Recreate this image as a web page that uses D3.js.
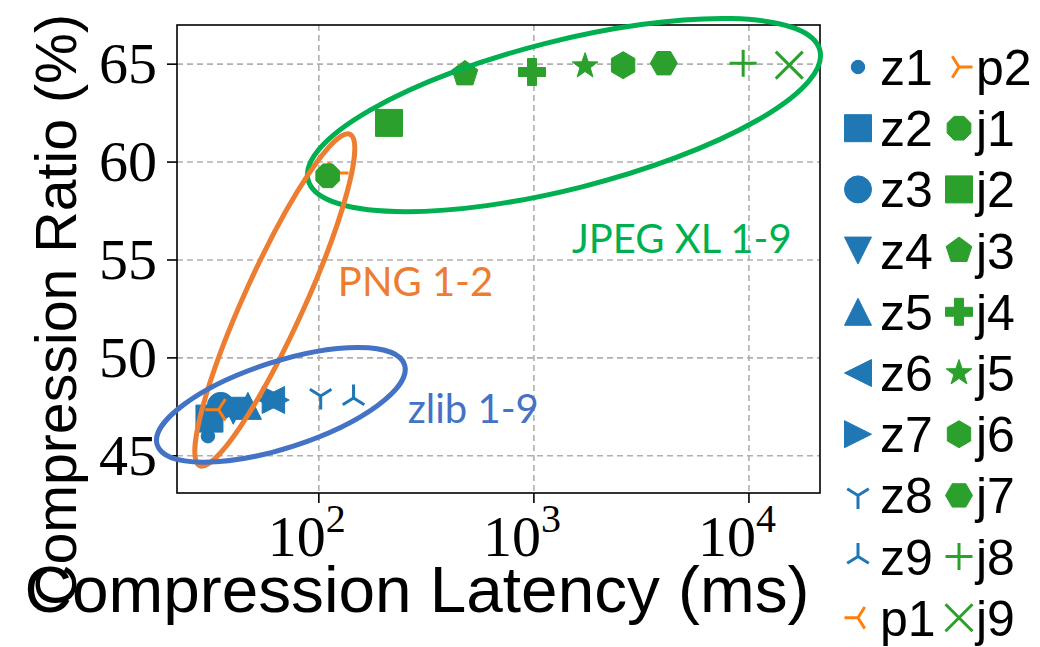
<!DOCTYPE html>
<html>
<head>
<meta charset="utf-8">
<script src="https://cdn.jsdelivr.net/npm/d3@7"></script>
<style>
  body { margin: 0; background: #fff; }
  #canvas { width: 1040px; height: 647px; }
  .grid line { stroke: #b0b0b0; stroke-width: 1.6px; stroke-dasharray: 6,4; }
  .tick-label { font-family: "Liberation Serif", serif; font-size: 58px; fill: #000; }
  .axis-title { font-family: "Liberation Sans", sans-serif; fill: #000; }
  .legend text { font-family: "Liberation Sans", sans-serif; font-size: 50px; fill: #000; }
  .note { font-family: Lato, sans-serif; font-size: 40px; }
</style>
</head>
<body>
<div id="canvas" class="canvas"></div>
<script>
// point names, in legend order
var names = ['z1','z2','z3','z4','z5','z6','z7','z8','z9','p1','p2',
             'j1','j2','j3','j4','j5','j6','j7','j8','j9'];
// compression latency (ms)
var latency = [30.5, 31, 35, 40, 46.8, 60, 63, 102, 145, 34.2, 119,
               110, 212, 478, 980, 1730, 2600, 4020, 9400, 15400];
// compression ratio (%)
var ratio = [46.0, 46.9, 47.55, 47.3, 47.55, 47.85, 47.85, 48.05, 47.95, 47.35, 59.44,
             59.3, 62.0, 64.5, 64.6, 64.9, 64.95, 65.05, 65.05, 64.95];
// matplotlib-style marker codes
var markers = ['.','s','o','v','^','<','>','1','2','3','4',
               '8','s','p','P','*','h','H','+','x'];
var yTicks = [45, 50, 55, 60, 65];
var xTicks = [100, 1000, 10000];

// ellipses drawn round each group: centre (latency, ratio), label anchor
var groupNames = ['JPEG XL 1-9', 'PNG 1-2', 'zlib 1-9'];
var groupCentre = [[1380, 62.4], [62.4, 52.96], [66.6, 47.6]];
var groupLabelAt = [[1503, 55.36], [122.6, 53.16], [259, 46.68]];

var colorOf = function(n){ return n[0]==='z' ? '#1f77b4' : (n[0]==='p' ? '#ff7f0e' : '#2ca02c'); };
var ringColor = ['#00b050', '#ed7d31', '#4472c4'];
var ringShape = [[264, 74, -14.2], [182, 30, -65.6], [130, 43, -18]];

var m = {t:25, r:220, b:154, l:177},
    w = 1040 - m.l - m.r,
    h = 647 - m.t - m.b;

var svg = d3.select('.canvas').append('svg')
    .attr('width', 1040).attr('height', 647);
var plot = svg.append('g').attr('transform', 'translate('+m.l+','+m.t+')');

var x = d3.scaleLog().domain([21.9, 21400]).range([0, w]);
var y = d3.scaleLinear().domain([43.1, 67]).range([h, 0]);

// grid
var grid = plot.append('g').attr('class','grid');
grid.selectAll('.gx').data(xTicks).enter().append('line')
    .attr('x1', function(d){return x(d);}).attr('x2', function(d){return x(d);})
    .attr('y1', 0).attr('y2', h);
grid.selectAll('.gy').data(yTicks).enter().append('line')
    .attr('y1', function(d){return y(d);}).attr('y2', function(d){return y(d);})
    .attr('x1', 0).attr('x2', w);

// frame
plot.append('rect').attr('width', w).attr('height', h)
    .style('fill','none').style('stroke','#000').style('stroke-width','1.6px');

// ticks
plot.selectAll('.ty').data(yTicks).enter().append('line')
    .attr('x1', -10).attr('x2', 0)
    .attr('y1', function(d){return y(d);}).attr('y2', function(d){return y(d);})
    .style('stroke','#000').style('stroke-width','1.6px');
plot.selectAll('.tyl').data(yTicks).enter().append('text')
    .attr('class','tick-label')
    .attr('x', -20).attr('y', function(d){return y(d);})
    .attr('dy', '0.33em').attr('text-anchor','end')
    .text(function(d){return d;});

plot.selectAll('.tx').data(xTicks).enter().append('line')
    .attr('y1', h).attr('y2', h + 10)
    .attr('x1', function(d){return x(d);}).attr('x2', function(d){return x(d);})
    .style('stroke','#000').style('stroke-width','1.6px');
var xl = plot.selectAll('.txl').data(xTicks).enter().append('text')
    .attr('class','tick-label')
    .attr('x', function(d){return x(d) - 12;}).attr('y', h + 63)
    .attr('text-anchor','middle');
xl.append('tspan').text('10');
xl.append('tspan').attr('dy', -24).style('font-size','40px')
    .text(function(d){return Math.round(Math.log10(d));});

// axis titles, sized to the span they take in the figure
function fitTitle(t, span){
    var len = t.node().getComputedTextLength();
    t.style('font-size', (60 * span / len) + 'px');
}
var xTitle = svg.append('text').attr('class','axis-title')
    .attr('x', 417).attr('y', 612).attr('text-anchor','middle')
    .style('font-size','60px')
    .text('Compression Latency (ms)');
fitTitle(xTitle, 785);
var yTitle = svg.append('text').attr('class','axis-title')
    .attr('transform','translate(76,310) rotate(-90)').attr('text-anchor','middle')
    .style('font-size','60px')
    .text('Compression Ratio (%)');
fitTitle(yTitle, 592);

// marker shapes, s = marker size in px
function poly(n, r, rot){
    var p = [];
    for (var i = 0; i < n; i++){
        var a = rot + i * 2 * Math.PI / n;
        p.push([r*Math.sin(a), -r*Math.cos(a)]);
    }
    return 'M' + p.join('L') + 'Z';
}
function lines(segs){
    return segs.map(function(s){ return 'M0,0L'+s[0]+','+s[1]; }).join('');
}
function markerPath(code, s){
    var r = s/2;
    switch(code){
        case '.': return d3.symbol(d3.symbolCircle, Math.PI*r*r/4)();
        case 'o': return d3.symbol(d3.symbolCircle, Math.PI*r*r)();
        case 's': return 'M'+(-r)+','+(-r)+'h'+s+'v'+s+'h'+(-s)+'Z';
        case '^': return 'M0,'+(-r)+'L'+r+','+r+'L'+(-r)+','+r+'Z';
        case 'v': return 'M0,'+r+'L'+r+','+(-r)+'L'+(-r)+','+(-r)+'Z';
        case '<': return 'M'+(-r)+',0L'+r+','+(-r)+'L'+r+','+r+'Z';
        case '>': return 'M'+r+',0L'+(-r)+','+(-r)+'L'+(-r)+','+r+'Z';
        case '1': return lines([[0,r],[0.8*r,-0.5*r],[-0.8*r,-0.5*r]]);
        case '2': return lines([[0,-r],[0.8*r,0.5*r],[-0.8*r,0.5*r]]);
        case '3': return lines([[-r,0],[0.5*r,0.8*r],[0.5*r,-0.8*r]]);
        case '4': return lines([[r,0],[-0.5*r,0.8*r],[-0.5*r,-0.8*r]]);
        case '8': return poly(8, r*0.95, Math.PI/8);
        case 'p': return poly(5, r, 0);
        case 'h': return poly(6, r, 0);
        case 'H': return poly(6, r, Math.PI/6);
        case '*':
            var p = [];
            for (var i = 0; i < 10; i++){
                var a = i*Math.PI/5, rr = i%2 ? r*0.4 : r;
                p.push([rr*Math.sin(a), -rr*Math.cos(a)]);
            }
            return 'M'+p.join('L')+'Z';
        case 'P':
            var a1 = r/3;
            return 'M'+(-a1)+','+(-r)+'H'+a1+'V'+(-a1)+'H'+r+'V'+a1+'H'+a1+'V'+r+'H'+(-a1)+'V'+a1+'H'+(-r)+'V'+(-a1)+'H'+(-a1)+'Z';
        case '+': return 'M'+(-r)+',0H'+r+'M0,'+(-r)+'V'+r;
        case 'x': return 'M'+(-r)+','+(-r)+'L'+r+','+r+'M'+(-r)+','+r+'L'+r+','+(-r);
    }
}
var lineMarkers = '1234+x';
function styleMarker(sel){
    sel.attr('d', function(d){return markerPath(markers[d], 27);})
       .style('fill', function(d){return lineMarkers.indexOf(markers[d]) >= 0 ? 'none' : colorOf(names[d]);})
       .style('stroke', function(d){return colorOf(names[d]);})
       .style('stroke-width', function(d){return lineMarkers.indexOf(markers[d]) >= 0 ? 3 : 1;})
       .style('stroke-linejoin','round');
}

var idx = d3.range(names.length);
plot.selectAll('.pt').data(idx).enter().append('path')
    .attr('class','pt')
    .attr('transform', function(d){return 'translate('+x(latency[d])+','+y(ratio[d])+')';})
    .call(styleMarker);

// rings around each group
var rings = plot.selectAll('.ring').data(d3.range(3)).enter().append('g')
    .attr('transform', function(i){
        return 'translate('+x(groupCentre[i][0])+','+y(groupCentre[i][1])+') rotate('+ringShape[i][2]+')';
    });
rings.append('ellipse')
    .attr('rx', function(i){return ringShape[i][0];})
    .attr('ry', function(i){return ringShape[i][1];})
    .style('fill','none')
    .style('stroke', function(i){return ringColor[i];})
    .style('stroke-width','5px');
plot.selectAll('.note').data(d3.range(3)).enter().append('text')
    .attr('class','note')
    .attr('x', function(i){return x(groupLabelAt[i][0]);})
    .attr('y', function(i){return y(groupLabelAt[i][1]);})
    .style('fill', function(i){return ringColor[i];})
    .text(function(i){return groupNames[i];});

// legend, two columns of ten
var legend = svg.append('g').attr('class','legend');
var items = legend.selectAll('.item').data(idx).enter().append('g')
    .attr('transform', function(d){
        var col = d < 10 ? 0 : 1, row = d % 10;
        return 'translate('+(858 + col*101)+','+(67 + row*61.2)+')';
    });
items.append('path').call(styleMarker);
items.append('text').attr('x', function(d){return d < 10 ? 22 : 17;}).attr('dy','0.36em')
    .text(function(d){return names[d];});
</script>
</body>
</html>
